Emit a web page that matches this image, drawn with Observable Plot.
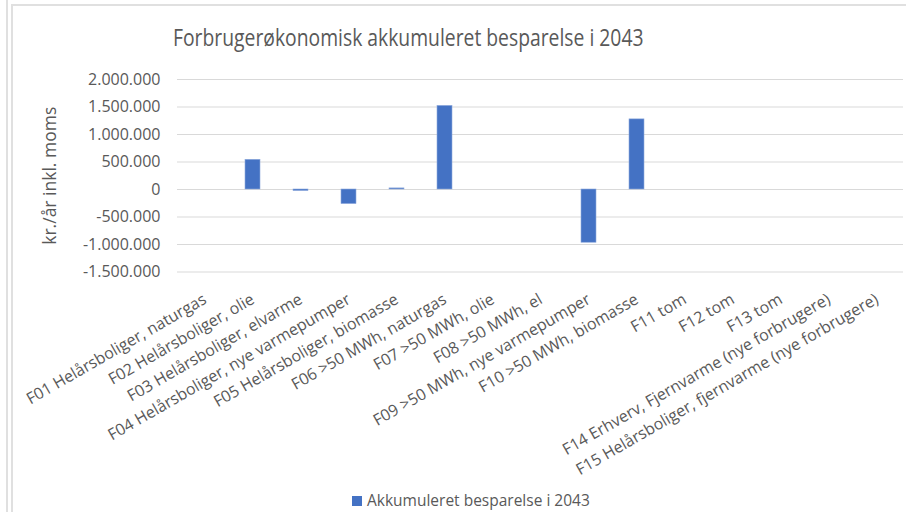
<!DOCTYPE html>
<html><head><meta charset="utf-8">
<script src="https://cdn.jsdelivr.net/npm/d3@7"></script>
<script src="https://cdn.jsdelivr.net/npm/@observablehq/plot@0.6"></script>
<style>
body{margin:0;background:#fff;}
#wrap{position:relative;width:906px;height:512px;overflow:hidden;font-family:"Open Sans",sans-serif;background:#fff;}
.line{position:absolute;background:#e0e0e0;}
#title{position:absolute;left:173px;top:26px;font-size:23px;line-height:1;color:#595959;white-space:nowrap;transform:scaleX(0.84);transform-origin:0 0;}
#legend{position:absolute;left:352px;top:493px;font-size:15.5px;line-height:1;color:#595959;white-space:nowrap;display:flex;align-items:center;}
#legend .sw{display:inline-block;width:10px;height:10px;background:#4472C4;margin-right:5px;}
#chart{position:absolute;left:0;top:0;}
</style></head>
<body><div id="wrap">
<div class="line" style="left:6px;top:0;width:2px;height:512px"></div>
<div class="line" style="left:11px;top:4px;width:2px;height:508px"></div>
<div class="line" style="left:11px;top:4px;width:895px;height:2px"></div>
<div id="chart"></div>
<div id="title">Forbrugerøkonomisk akkumuleret besparelse i 2043</div>
<div id="legend"><span class="sw"></span><span>Akkumuleret besparelse i 2043</span></div>
</div>
<script>
const categories = [
  "F01 Helårsboliger, naturgas",
  "F02 Helårsboliger, olie",
  "F03 Helårsboliger, elvarme",
  "F04 Helårsboliger, nye varmepumper",
  "F05 Helårsboliger, biomasse",
  "F06 >50 MWh, naturgas",
  "F07 >50 MWh, olie",
  "F08 >50 MWh, el",
  "F09 >50 MWh, nye varmepumper",
  "F10 >50 MWh, biomasse",
  "F11 tom",
  "F12 tom",
  "F13 tom",
  "F14 Erhverv, Fjernvarme (nye forbrugere)",
  "F15 Helårsboliger, fjernvarme (nye forbrugere)"
];
const values = [0, 540000, -28000, -265000, 20000, 1520000, 0, 0, -968000, 1275000, 0, 0, 0, 0, 0];
const yTicks = [-1500000, -1000000, -500000, 0, 500000, 1000000, 1500000, 2000000];
const seriesName = "Akkumuleret besparelse i 2043";

const data = categories.map((c, i) => ({category: c, value: values[i]}));
const loc = d3.formatLocale({decimal: ",", thousands: ".", grouping: [3], currency: ["", ""], minus: "-"});
const fmt = loc.format(",d");

const chart = Plot.plot({
  width: 906,
  height: 512,
  marginLeft: 177,
  marginRight: 3,
  marginTop: 79,
  marginBottom: 240.5,
  style: {fontFamily: "Open Sans, sans-serif", fontSize: "16px", color: "#595959", background: "transparent", overflow: "visible"},
  x: {domain: categories, paddingInner: 0.69, paddingOuter: 0.345, label: null},
  y: {domain: [-1500000, 2000000], ticks: yTicks, tickFormat: fmt, label: null},
  marks: [
    Plot.ruleY(yTicks, {stroke: "#d9d9d9", strokeWidth: 1}),
    Plot.barY(data, {x: "category", y: "value", fill: "#4472C4", stroke: "#8faadc", strokeWidth: 0.6}),
    Plot.axisY({ticks: yTicks, tickFormat: fmt, tickSize: 0, tickPadding: 17, label: null, fill: "#595959", fontSize: 16}),
    Plot.axisX({tickSize: 0, tickRotate: -30, tickPadding: 26, label: null, fill: "#595959", fontSize: 16}),
    Plot.text(["kr./år inkl. moms"], {frameAnchor: "left", dx: -127, rotate: -90, textAnchor: "middle", fill: "#595959", fontSize: 17.5})
  ]
});
document.getElementById("chart").appendChild(chart);
</script>
</body></html>
